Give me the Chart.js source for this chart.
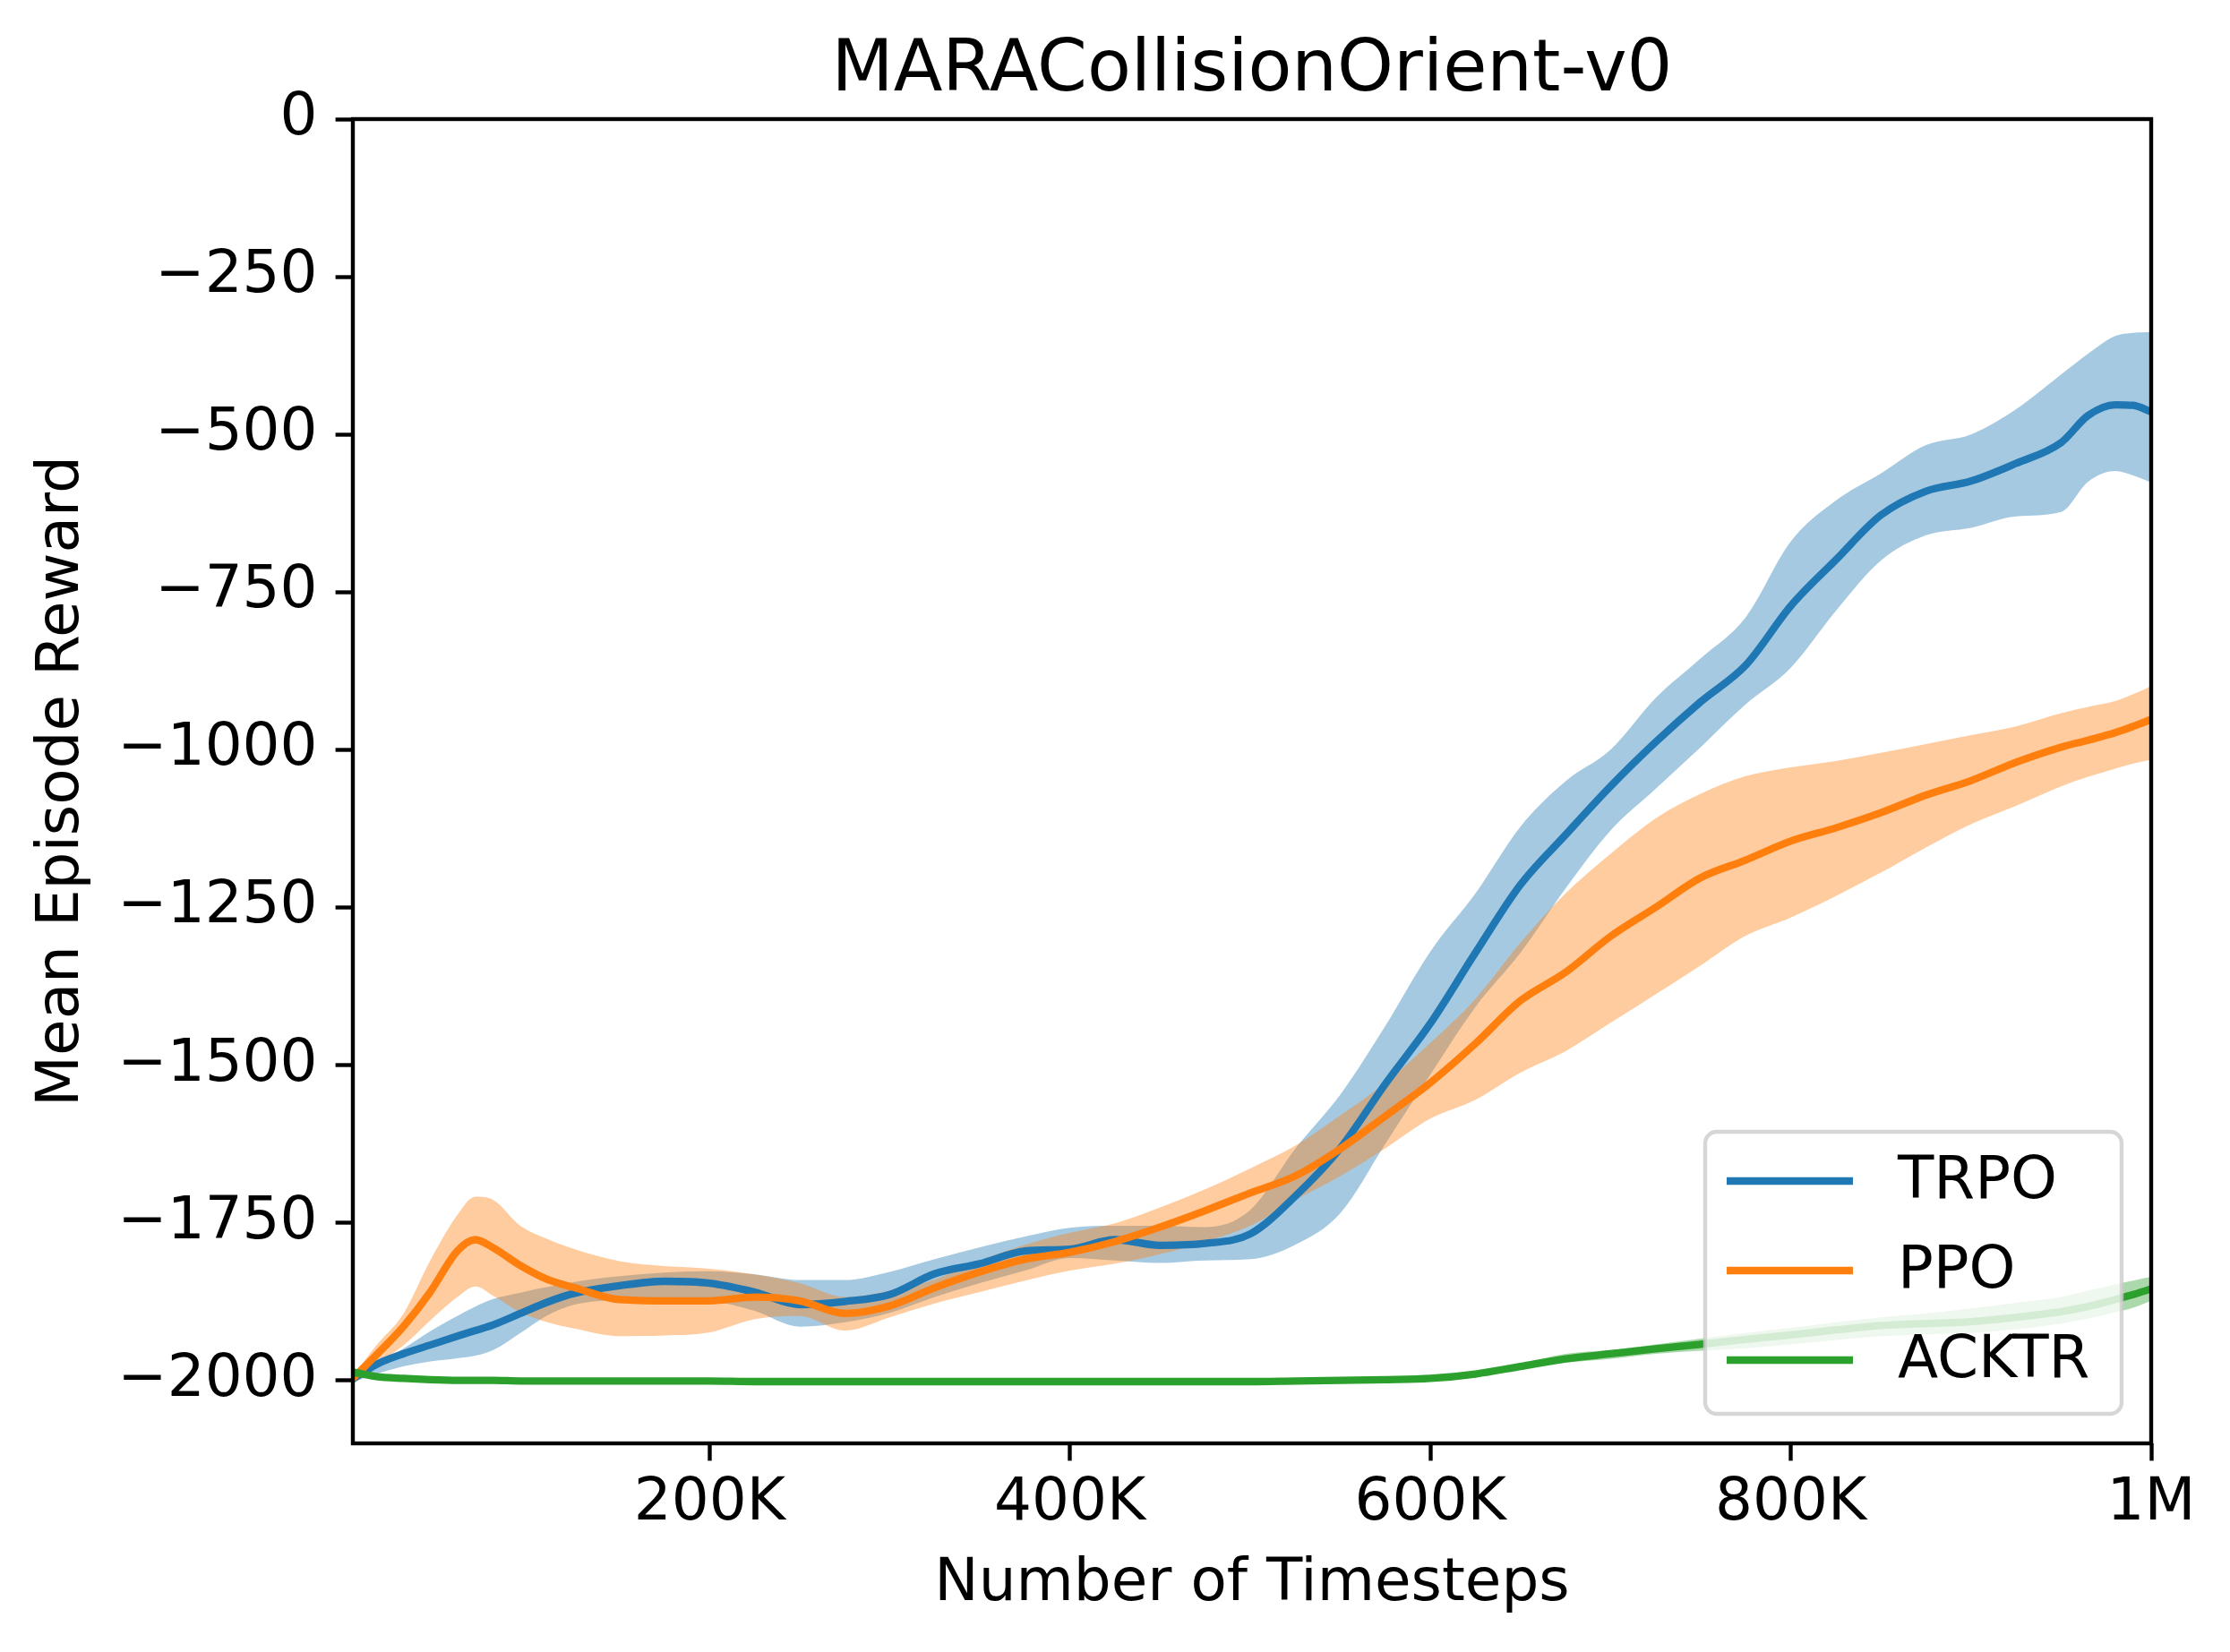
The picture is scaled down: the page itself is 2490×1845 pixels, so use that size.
<!DOCTYPE html>
<html>
<head>
<meta charset="utf-8">
<title>MARACollisionOrient-v0</title>
<script src="https://cdn.jsdelivr.net/npm/chart.js@4.4.1/dist/chart.umd.min.js"></script>
<style>
  html, body { margin: 0; padding: 0; background: #fff; }
  canvas { display: block; }
</style>
</head>
<body>
<canvas id="grafica" width="2490" height="1845" style="width:2490px;height:1845px"></canvas>
<script>
// timesteps
const steps = [2048, 15000, 30000, 45000, 60000, 70000, 80000, 95000, 110000, 125000, 150000, 175000, 200000,
  225000, 250000, 275000, 300000, 325000, 350000, 375000, 400000, 425000, 450000, 475000, 500000, 525000,
  550000, 575000, 600000, 625000, 650000, 675000, 700000, 725000, 750000, 775000, 800000, 825000, 850000,
  875000, 900000, 925000, 950000, 965000, 980000, 990000, 1000000];

// TRPO
const trpoMean = [-1998, -1975, -1958, -1944, -1930, -1921, -1912, -1894, -1876, -1862, -1850, -1843, -1846,
  -1860, -1880, -1875, -1864, -1831, -1815, -1795, -1792, -1777, -1786, -1783, -1768, -1708,
  -1632, -1530, -1434, -1322, -1214, -1135, -1058, -988, -924, -866, -772, -699, -628,
  -590, -574, -546, -513, -470, -453, -454, -464];
const trpoUpper = [-1996, -1975, -1950, -1922, -1898, -1883, -1871, -1861, -1852, -1844, -1835, -1829, -1827,
  -1832, -1841, -1841, -1828, -1808, -1789, -1772, -1758, -1755, -1755, -1757, -1730, -1633,
  -1547, -1438, -1320, -1228, -1122, -1050, -1000, -918, -855, -790, -670, -605, -562,
  -517, -500, -460, -405, -372, -344, -339, -338];
const trpoLower = [-2003, -1990, -1978, -1970, -1965, -1961, -1952, -1925, -1897, -1880, -1872, -1869, -1873,
  -1890, -1915, -1908, -1893, -1868, -1846, -1826, -1806, -1810, -1814, -1810, -1808, -1785,
  -1735, -1625, -1515, -1408, -1322, -1220, -1128, -1062, -996, -928, -870, -780, -700,
  -660, -648, -630, -623, -575, -558, -565, -576];

// PPO
const ppoMean = [-1997, -1960, -1915, -1860, -1795, -1777, -1790, -1818, -1840, -1853, -1872, -1874, -1874,
  -1868, -1874, -1894, -1882, -1853, -1828, -1808, -1797, -1780, -1757, -1731, -1703, -1676,
  -1633, -1581, -1528, -1466, -1398, -1353, -1296, -1250, -1203, -1175, -1145, -1124, -1100,
  -1072, -1049, -1020, -996, -985, -973, -963, -952];
const ppoUpper = [-1993, -1945, -1895, -1810, -1738, -1709, -1714, -1755, -1776, -1792, -1811, -1819, -1823,
  -1832, -1846, -1868, -1858, -1840, -1810, -1785, -1766, -1751, -1726, -1697, -1664, -1628,
  -1580, -1528, -1465, -1395, -1306, -1228, -1165, -1109, -1070, -1042, -1028, -1018, -1005,
  -991, -977, -963, -942, -932, -923, -912, -899];
const ppoLower = [-2000, -1975, -1945, -1905, -1868, -1851, -1866, -1892, -1908, -1918, -1930, -1929, -1924,
  -1903, -1898, -1921, -1900, -1878, -1860, -1842, -1826, -1815, -1800, -1780, -1755, -1714,
  -1676, -1632, -1585, -1555, -1512, -1478, -1433, -1388, -1342, -1295, -1266, -1232, -1195,
  -1155, -1118, -1089, -1058, -1043, -1030, -1022, -1016];

// ACKTR
const acktrMean = [-1987, -1994, -1997, -1999, -2000, -2000, -2000, -2001, -2001, -2001, -2001, -2001, -2001,
  -2002, -2002, -2002, -2002, -2002, -2002, -2002, -2002, -2002, -2002, -2002, -2002, -2001,
  -2000, -1999, -1997, -1990, -1978, -1966, -1958, -1950, -1943, -1935, -1928, -1920, -1913,
  -1910, -1907, -1900, -1891, -1883, -1872, -1864, -1855];
const acktrUpper = [-1983, -1991, -1995, -1997, -1998, -1998, -1998, -1999, -1999, -1999, -1999, -1999, -1999,
  -2000, -2000, -2000, -2000, -2000, -2000, -2000, -2000, -2000, -2000, -2000, -2000, -1999,
  -1998, -1997, -1995, -1988, -1974, -1958, -1952, -1943, -1934, -1925, -1917, -1908, -1900,
  -1894, -1886, -1877, -1868, -1858, -1848, -1842, -1836];
const acktrLower = [-1991, -1997, -1999, -2001, -2002, -2002, -2002, -2003, -2003, -2003, -2003, -2003, -2003,
  -2004, -2004, -2004, -2004, -2004, -2004, -2004, -2004, -2004, -2004, -2004, -2004, -2003,
  -2002, -2001, -1999, -1992, -1982, -1972, -1966, -1958, -1953, -1949, -1943, -1936, -1930,
  -1927, -1925, -1919, -1910, -1902, -1892, -1885, -1874];

// ejes
const xTicks = [200000, 400000, 600000, 800000, 1000000];
const xTickLabels = ["200K", "400K", "600K", "800K", "1M"];
const yTicks = [0, -250, -500, -750, -1000, -1250, -1500, -1750, -2000];
const yTickLabels = ["0", "\u2212250", "\u2212500", "\u2212750", "\u22121000", "\u22121250", "\u22121500", "\u22121750", "\u22122000"];
const xMin = 2048, xMax = 1000000, yMin = -2100, yMax = 0;

const FONT = "'DejaVu Sans', 'Liberation Sans', sans-serif";
const LW = 8.3;      // 1.5pt
const SPINE = 4.4;   // 0.8pt
const TICK = 19.4;   // 3.5pt

const pts = arr => steps.map((s, i) => ({ x: s, y: arr[i] }));

const series = [
  { name: "TRPO", color: "#1f77b4", band: "rgba(31,119,180,0.4)", mean: trpoMean, up: trpoUpper, lo: trpoLower },
  { name: "PPO", color: "#ff7f0e", band: "rgba(255,127,14,0.4)", mean: ppoMean, up: ppoUpper, lo: ppoLower },
  { name: "ACKTR", color: "#2ca02c", band: "rgba(44,160,44,0.4)", mean: acktrMean, up: acktrUpper, lo: acktrLower }
];

// datasets: bandas primero (debajo), luego las medias
const datasets = [];
series.forEach((s, k) => {
  const upIdx = datasets.length;
  datasets.push({
    label: s.name + " upper", data: pts(s.up), fill: upIdx + 1,
    backgroundColor: s.band, borderWidth: 0, borderColor: "rgba(0,0,0,0)",
    pointRadius: 0, cubicInterpolationMode: "monotone", order: 10 - k
  });
  datasets.push({
    label: s.name + " lower", data: pts(s.lo), fill: false,
    borderWidth: 0, borderColor: "rgba(0,0,0,0)",
    pointRadius: 0, cubicInterpolationMode: "monotone", order: 10 - k
  });
});
series.forEach((s, k) => {
  datasets.push({
    label: s.name, data: pts(s.mean), fill: false,
    borderColor: s.color, borderWidth: LW, borderCapStyle: "butt", borderJoinStyle: "round",
    pointRadius: 0, cubicInterpolationMode: "monotone", order: 3 - k
  });
});

// marco completo del eje (spines)
const spinesPlugin = {
  id: "spines",
  afterDatasetsDraw(chart) {
    const { ctx, chartArea: a } = chart;
    ctx.save();
    ctx.strokeStyle = "#000";
    ctx.lineWidth = SPINE;
    ctx.lineJoin = "miter";
    ctx.strokeRect(a.left, a.top, a.right - a.left, a.bottom - a.top);
    ctx.restore();
  }
};

// leyenda abajo a la derecha, dentro del área
const legendPlugin = {
  id: "legendBox",
  afterDraw(chart) {
    const { ctx, chartArea: a } = chart;
    const fs = 66;
    const w = 465, h = 315, pad = 33;
    const x0 = a.right - pad - w, y0 = a.bottom - pad - h;
    const r = 13;
    ctx.save();
    ctx.beginPath();
    ctx.moveTo(x0 + r, y0);
    ctx.arcTo(x0 + w, y0, x0 + w, y0 + h, r);
    ctx.arcTo(x0 + w, y0 + h, x0, y0 + h, r);
    ctx.arcTo(x0, y0 + h, x0, y0, r);
    ctx.arcTo(x0, y0, x0 + w, y0, r);
    ctx.closePath();
    ctx.fillStyle = "rgba(255,255,255,0.8)";
    ctx.fill();
    ctx.strokeStyle = "rgba(204,204,204,0.8)";
    ctx.lineWidth = SPINE;
    ctx.stroke();

    ctx.font = fs + "px " + FONT;
    ctx.textBaseline = "middle";
    ctx.textAlign = "left";
    series.forEach((s, i) => {
      const y = y0 + 55 + i * 100;
      ctx.strokeStyle = s.color;
      ctx.lineWidth = LW;
      ctx.lineCap = "butt";
      ctx.beginPath();
      ctx.moveTo(x0 + 24, y);
      ctx.lineTo(x0 + 165, y);
      ctx.stroke();
      ctx.fillStyle = "#000";
      ctx.fillText(s.name, x0 + 215, y + 2);
    });
    ctx.restore();
  }
};

Chart.defaults.font.family = FONT;
Chart.defaults.color = "#000";

new Chart(document.getElementById("grafica"), {
  type: "line",
  data: { datasets },
  options: {
    responsive: false,
    devicePixelRatio: 1,
    animation: false,
    events: [],
    layout: { padding: { top: 0, left: 0, right: 88, bottom: 0 } },
    plugins: {
      legend: { display: false },
      tooltip: { enabled: false },
      title: {
        display: true,
        fullSize: false,
        text: "MARACollisionOrient-v0",
        color: "#000",
        font: { family: FONT, size: 80, weight: "normal", lineHeight: 1.2 },
        padding: { top: 32, bottom: 5 }
      }
    },
    scales: {
      x: {
        type: "linear",
        min: xMin, max: xMax,
        afterBuildTicks: sc => { sc.ticks = xTicks.map(v => ({ value: v })); },
        afterFit: sc => { sc.height = 233; },
        grid: { display: true, drawOnChartArea: false, drawTicks: true, tickLength: TICK, tickWidth: SPINE, tickColor: "#000" },
        border: { display: false },
        ticks: {
          autoSkip: false, maxRotation: 0, padding: 9,
          font: { family: FONT, size: 66 }, color: "#000",
          callback: v => { const i = xTicks.indexOf(v); return i >= 0 ? xTickLabels[i] : ""; }
        },
        title: {
          display: true, text: "Number of Timesteps", color: "#000",
          font: { family: FONT, size: 66, lineHeight: 1.2 },
          padding: { top: 0, bottom: 36 }
        }
      },
      y: {
        type: "linear",
        min: yMin, max: yMax,
        afterBuildTicks: sc => { sc.ticks = yTicks.map(v => ({ value: v })); },
        afterFit: sc => { sc.width = 394; },
        grid: { display: true, drawOnChartArea: false, drawTicks: true, tickLength: TICK, tickWidth: SPINE, tickColor: "#000" },
        border: { display: false },
        ticks: {
          autoSkip: false, padding: 20,
          font: { family: FONT, size: 66 }, color: "#000",
          callback: v => { const i = yTicks.indexOf(v); return i >= 0 ? yTickLabels[i] : ""; }
        },
        title: {
          display: true, text: "Mean Episode Reward", color: "#000",
          font: { family: FONT, size: 66, lineHeight: 1.2 },
          padding: { top: 30, bottom: 0 }
        }
      }
    }
  },
  plugins: [spinesPlugin, legendPlugin]
});
</script>
</body>
</html>
